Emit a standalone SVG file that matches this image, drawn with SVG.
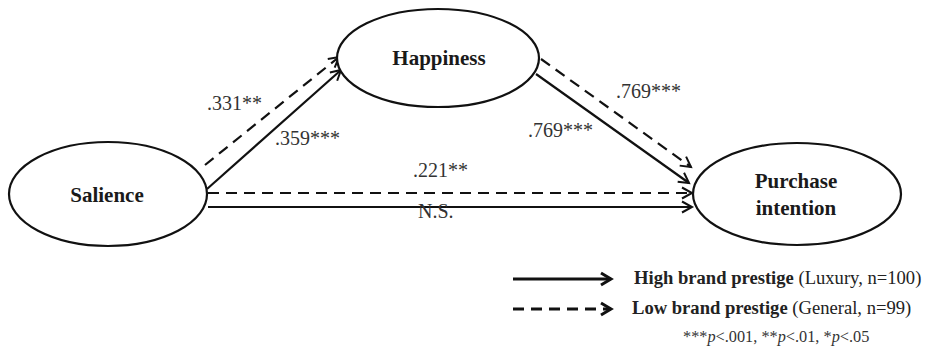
<svg xmlns="http://www.w3.org/2000/svg" width="933" height="347" viewBox="0 0 933 347">
<defs>
<marker id="ah" markerUnits="userSpaceOnUse" markerWidth="14" markerHeight="14" refX="11" refY="6" orient="auto" viewBox="0 0 14 12">
<path d="M1,0.5 L11,6 L1,11.5" fill="none" stroke="#111" stroke-width="2"/>
</marker>
<marker id="ahl" markerUnits="userSpaceOnUse" markerWidth="16" markerHeight="16" refX="12" refY="7" orient="auto" viewBox="0 0 16 14">
<path d="M2,1 L12,7 L2,13" fill="none" stroke="#111" stroke-width="3"/>
</marker>
</defs>
<style>
.node{fill:#fff;stroke:#111;stroke-width:2.2}
.nt{font-family:"Liberation Serif","Times New Roman",serif;font-weight:bold;font-size:21px;fill:#1a1a1a;text-anchor:middle}
.lab{font-family:"Liberation Serif","Times New Roman",serif;font-size:20px;fill:#333}
.solid{fill:none;stroke:#111;stroke-width:2.2;marker-end:url(#ah)}
.dash{fill:none;stroke:#111;stroke-width:2.2;stroke-dasharray:11,7;marker-end:url(#ah)}
.lg{font-family:"Liberation Serif","Times New Roman",serif;font-size:18.6px;fill:#222}
.fn{font-family:"Liberation Serif","Times New Roman",serif;font-size:16.3px;fill:#333}
</style>
<rect width="933" height="347" fill="#fff"/>
<g id="connectors">
<path class="solid" d="M207,189 L341,70"/>
<path class="dash" d="M205,165 L339,57"/>
<path class="dash" d="M208,193 L692,193"/>
<path class="solid" d="M208,207 L692,207"/>
<path class="solid" d="M536,74 L689,183"/>
<path class="dash" d="M541,59 L691,167"/>
<text class="lab" x="207" y="110">.331**</text>
<text class="lab" x="275" y="145">.359***</text>
<text class="lab" x="413" y="177">.221**</text>
<text class="lab" x="418" y="218">N.S.</text>
<text class="lab" x="616" y="98">.769***</text>
<text class="lab" x="528" y="137">.769***</text>
</g>
<g id="salience">
<ellipse class="node" cx="108" cy="194" rx="99" ry="52"/>
<text class="nt" x="107" y="202">Salience</text>
</g>
<g id="happiness">
<ellipse class="node" cx="438" cy="58" rx="101" ry="49"/>
<text class="nt" x="439" y="65">Happiness</text>
</g>
<g id="purchase">
<ellipse class="node" cx="797" cy="194" rx="104" ry="51"/>
<text class="nt" x="796" y="188">Purchase</text>
<text class="nt" x="796" y="215">intention</text>
</g>
<g id="legend">
<path d="M513,279 L611,279" fill="none" stroke="#111" stroke-width="3" marker-end="url(#ahl)"/>
<path d="M513,309 L611,309" fill="none" stroke="#111" stroke-width="3" stroke-dasharray="11,7" marker-end="url(#ahl)"/>
<text class="lg" x="634" y="284"><tspan font-weight="bold">High brand prestige</tspan> (Luxury, n=100)</text>
<text class="lg" x="632" y="314"><tspan font-weight="bold">Low brand prestige</tspan> (General, n=99)</text>
<text class="fn" x="683" y="342">***<tspan font-style="italic">p</tspan>&lt;.001, **<tspan font-style="italic">p</tspan>&lt;.01, *<tspan font-style="italic">p</tspan>&lt;.05</text>
</g>
</svg>
